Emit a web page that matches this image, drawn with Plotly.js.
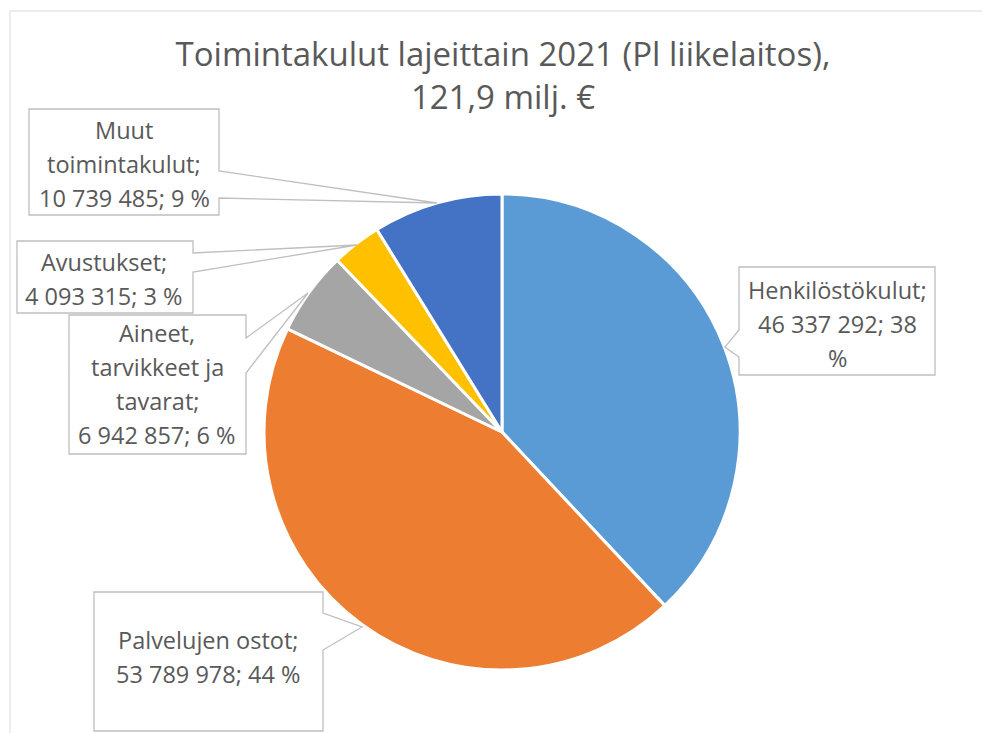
<!DOCTYPE html>
<html>
<head>
<meta charset="utf-8">
<script src="https://cdn.plot.ly/plotly-3.0.1.min.js"></script>
<style>html,body{margin:0;padding:0;background:#fff;}#chart{width:982px;height:733px;}</style>
</head>
<body>
<div id="chart"></div>
<script>
// ---- data ----
const categories = ["Henkilöstökulut", "Palvelujen ostot", "Aineet, tarvikkeet ja tavarat", "Avustukset", "Muut toimintakulut"];
const values = [46337292, 53789978, 6942857, 4093315, 10739485];
const colors = ["#5B9BD5", "#ED7D31", "#A5A5A5", "#FFC000", "#4472C4"];
const titleLines = ["Toimintakulut lajeittain 2021 (Pl liikelaitos),", "121,9 milj. €"];

// ---- layout helpers ----
const W = 982, H = 733;
const X = v => v / W;
const Y = v => 1 - v / H;
const FONT = "'Open Sans', sans-serif";
const TXT = "#595959";

const total = values.reduce((a, b) => a + b, 0);
const fmt = v => String(v).replace(/\B(?=(\d{3})+(?!\d))/g, " ");
const pct = v => Math.round(v / total * 100) + " %";
const full = values.map((v, i) => categories[i] + "; " + fmt(v) + "; " + pct(v));

// how many words go on each line of each label box
const wordsPerLine = [
  [1, 4, 1],      // Henkilöstökulut; | 46 337 292; 38 | %
  [2, 5],         // Palvelujen ostot; | 53 789 978; 44 %
  [1, 2, 1, 5],   // Aineet, | tarvikkeet ja | tavarat; | 6 942 857; 6 %
  [1, 5],         // Avustukset; | 4 093 315; 3 %
  [1, 1, 5]       // Muut | toimintakulut; | 10 739 485; 9 %
];
function wrap(s, counts) {
  const w = s.split(" "); const out = []; let k = 0;
  counts.forEach(c => { out.push(w.slice(k, k + c).join(" ")); k += c; });
  return out;
}
// label box geometry in pixels
const boxes = [
  {b:[739,267,935,375], side:"left",  p:[330,357], tip:[725,347], cx:837, y0:290},
  {b:[94,592,323,731],  side:"right", p:[613,650], tip:[362,627], cx:208, y0:640},
  {b:[69,315,246,454],  side:"right", p:[338,373], tip:[308,293], cx:157, y0:333},
  {b:[17,241,193,313],  side:"right", p:[253,272], tip:[357,245], cx:104, y0:262},
  {b:[29,109,219,215],  side:"right", p:[171,198], tip:[437,203], cx:124, y0:130}
];
const LINE = 34;

const shapes = [{
  type: "rect", xref: "paper", yref: "paper",
  x0: X(10), x1: X(1000), y0: Y(11), y1: Y(760),
  line: {color: "#D9D9D9", width: 1}, fillcolor: "rgba(0,0,0,0)", layer: "below"
}];
const annotations = [];
boxes.forEach((bx, i) => {
  const [x0, y0, x1, y1] = bx.b;
  let pts;
  if (bx.side === "right") {
    pts = [[x0,y0],[x1,y0],[x1,bx.p[0]],bx.tip,[x1,bx.p[1]],[x1,y1],[x0,y1]];
  } else {
    pts = [[x0,y0],[x1,y0],[x1,y1],[x0,y1],[x0,bx.p[1]],bx.tip,[x0,bx.p[0]]];
  }
  const path = "M " + pts.map(p => X(p[0]).toFixed(5) + "," + Y(p[1]).toFixed(5)).join(" L ") + " Z";
  shapes.push({type: "path", xref: "paper", yref: "paper", path: path,
    line: {color: "#BFBFBF", width: 1.3}, fillcolor: "#FFFFFF", layer: "above"});
  wrap(full[i], wordsPerLine[i]).forEach((t, k) => {
    annotations.push({
      xref: "paper", yref: "paper", x: X(bx.cx), y: Y(bx.y0 + k * LINE),
      xanchor: "center", yanchor: "middle", showarrow: false,
      text: t, font: {family: FONT, size: 23.5, color: TXT}
    });
  });
});

const cx = 502, cy = 432, r = 238;
const data = [{
  type: "pie",
  labels: categories,
  values: values,
  sort: false,
  direction: "clockwise",
  rotation: 0,
  textinfo: "none",
  hoverinfo: "label+value+percent",
  marker: {colors: colors, line: {color: "#FFFFFF", width: 3}},
  domain: {x: [X(cx - r), X(cx + r)], y: [Y(cy + r), Y(cy - r)]},
  showlegend: false
}];

const layout = {
  width: W, height: H,
  margin: {l: 0, r: 0, t: 0, b: 0},
  paper_bgcolor: "#FFFFFF",
  font: {family: FONT, color: TXT},
  title: {
    text: titleLines.join("<br>"),
    font: {family: FONT, size: 33, color: TXT},
    x: X(503), xanchor: "center", xref: "paper",
    y: Y(66), yanchor: "top", yref: "container"
  },
  shapes: shapes,
  annotations: annotations,
  showlegend: false
};
Plotly.newPlot("chart", data, layout, {displayModeBar: false, staticPlot: true});
</script>
</body>
</html>
